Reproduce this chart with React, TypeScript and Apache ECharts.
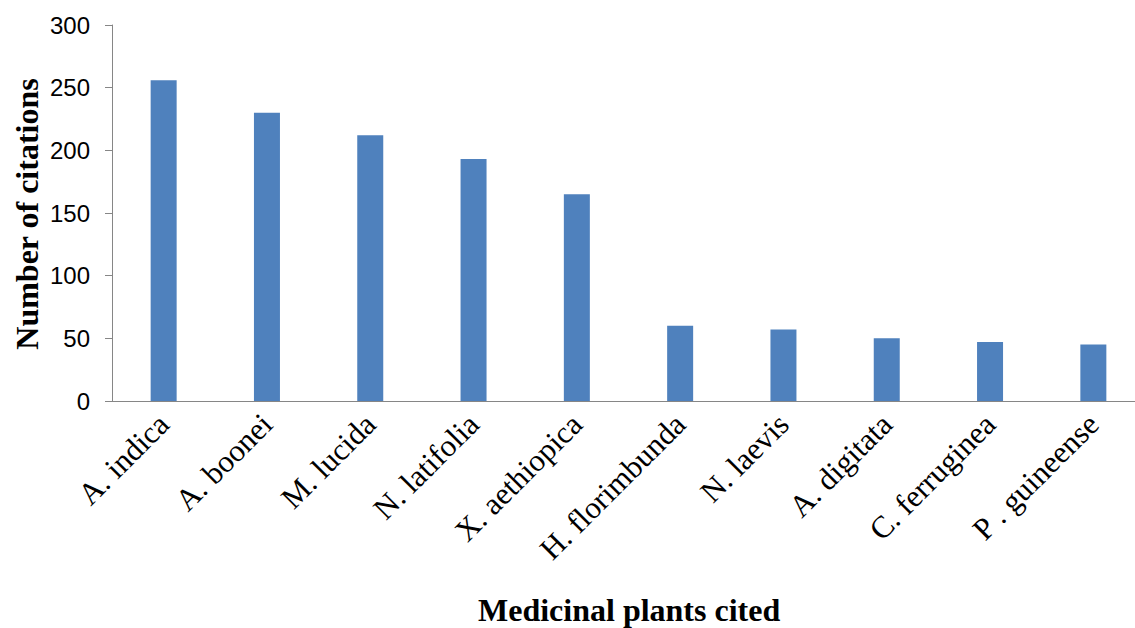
import React, { useEffect, useRef } from "react";
import * as echarts from "echarts";

const plants = [
  "A. indica",
  "A. boonei",
  "M. lucida",
  "N. latifolia",
  "X. aethiopica",
  "H. florimbunda",
  "N. laevis",
  "A. digitata",
  "C. ferruginea",
  "P . guineense",
];
const citations = [256, 230, 212, 193, 165, 60, 57, 50, 47, 45];
const yTicks = [0, 50, 100, 150, 200, 250, 300];

export default function App() {
  const ref = useRef<HTMLDivElement>(null);
  useEffect(() => {
    if (!ref.current) return;
    const chart = echarts.init(ref.current, undefined, { renderer: "svg" });
    chart.setOption({
      animation: false,
      backgroundColor: "#ffffff",
      grid: { left: 112, right: 5, top: 25, bottom: 227, containLabel: false },
      xAxis: {
        type: "category",
        data: plants,
        axisLine: { lineStyle: { color: "#868686", width: 1 } },
        axisTick: { show: false },
        axisLabel: {
          rotate: 45,
          interval: 0,
          margin: 18,
          color: "#000",
          fontFamily: "'Liberation Serif', 'Times New Roman', serif",
          fontSize: 31,
        },
      },
      yAxis: {
        type: "value",
        min: yTicks[0],
        max: yTicks[yTicks.length - 1],
        interval: 50,
        splitLine: { show: false },
        axisLine: { show: true, lineStyle: { color: "#868686", width: 1 } },
        axisTick: { show: true, length: 7, lineStyle: { color: "#868686" } },
        axisLabel: {
          margin: 22,
          color: "#000",
          fontFamily: "'Liberation Sans', Arial, sans-serif",
          fontSize: 24,
        },
      },
      series: [
        {
          type: "bar",
          data: citations,
          barWidth: 26,
          itemStyle: { color: "#4F81BD" },
        },
      ],
      graphic: [
        {
          type: "text",
          left: 478,
          top: 594,
          style: {
            text: "Medicinal plants cited",
            fontFamily: "'Liberation Serif', 'Times New Roman', serif",
            fontWeight: "bold",
            fontSize: 32,
            fill: "#000",
          },
        },
        {
          type: "text",
          x: 27,
          y: 214,
          rotation: Math.PI / 2,
          style: {
            text: "Number of citations",
            fontFamily: "'Liberation Serif', 'Times New Roman', serif",
            fontWeight: "bold",
            fontSize: 32,
            fill: "#000",
            align: "center",
            verticalAlign: "middle",
          },
        },
      ],
    });
    return () => chart.dispose();
  }, []);
  return (
    <div
      ref={ref}
      style={{ position: "fixed", left: 0, top: 0, width: 1150, height: 628 }}
    />
  );
}
